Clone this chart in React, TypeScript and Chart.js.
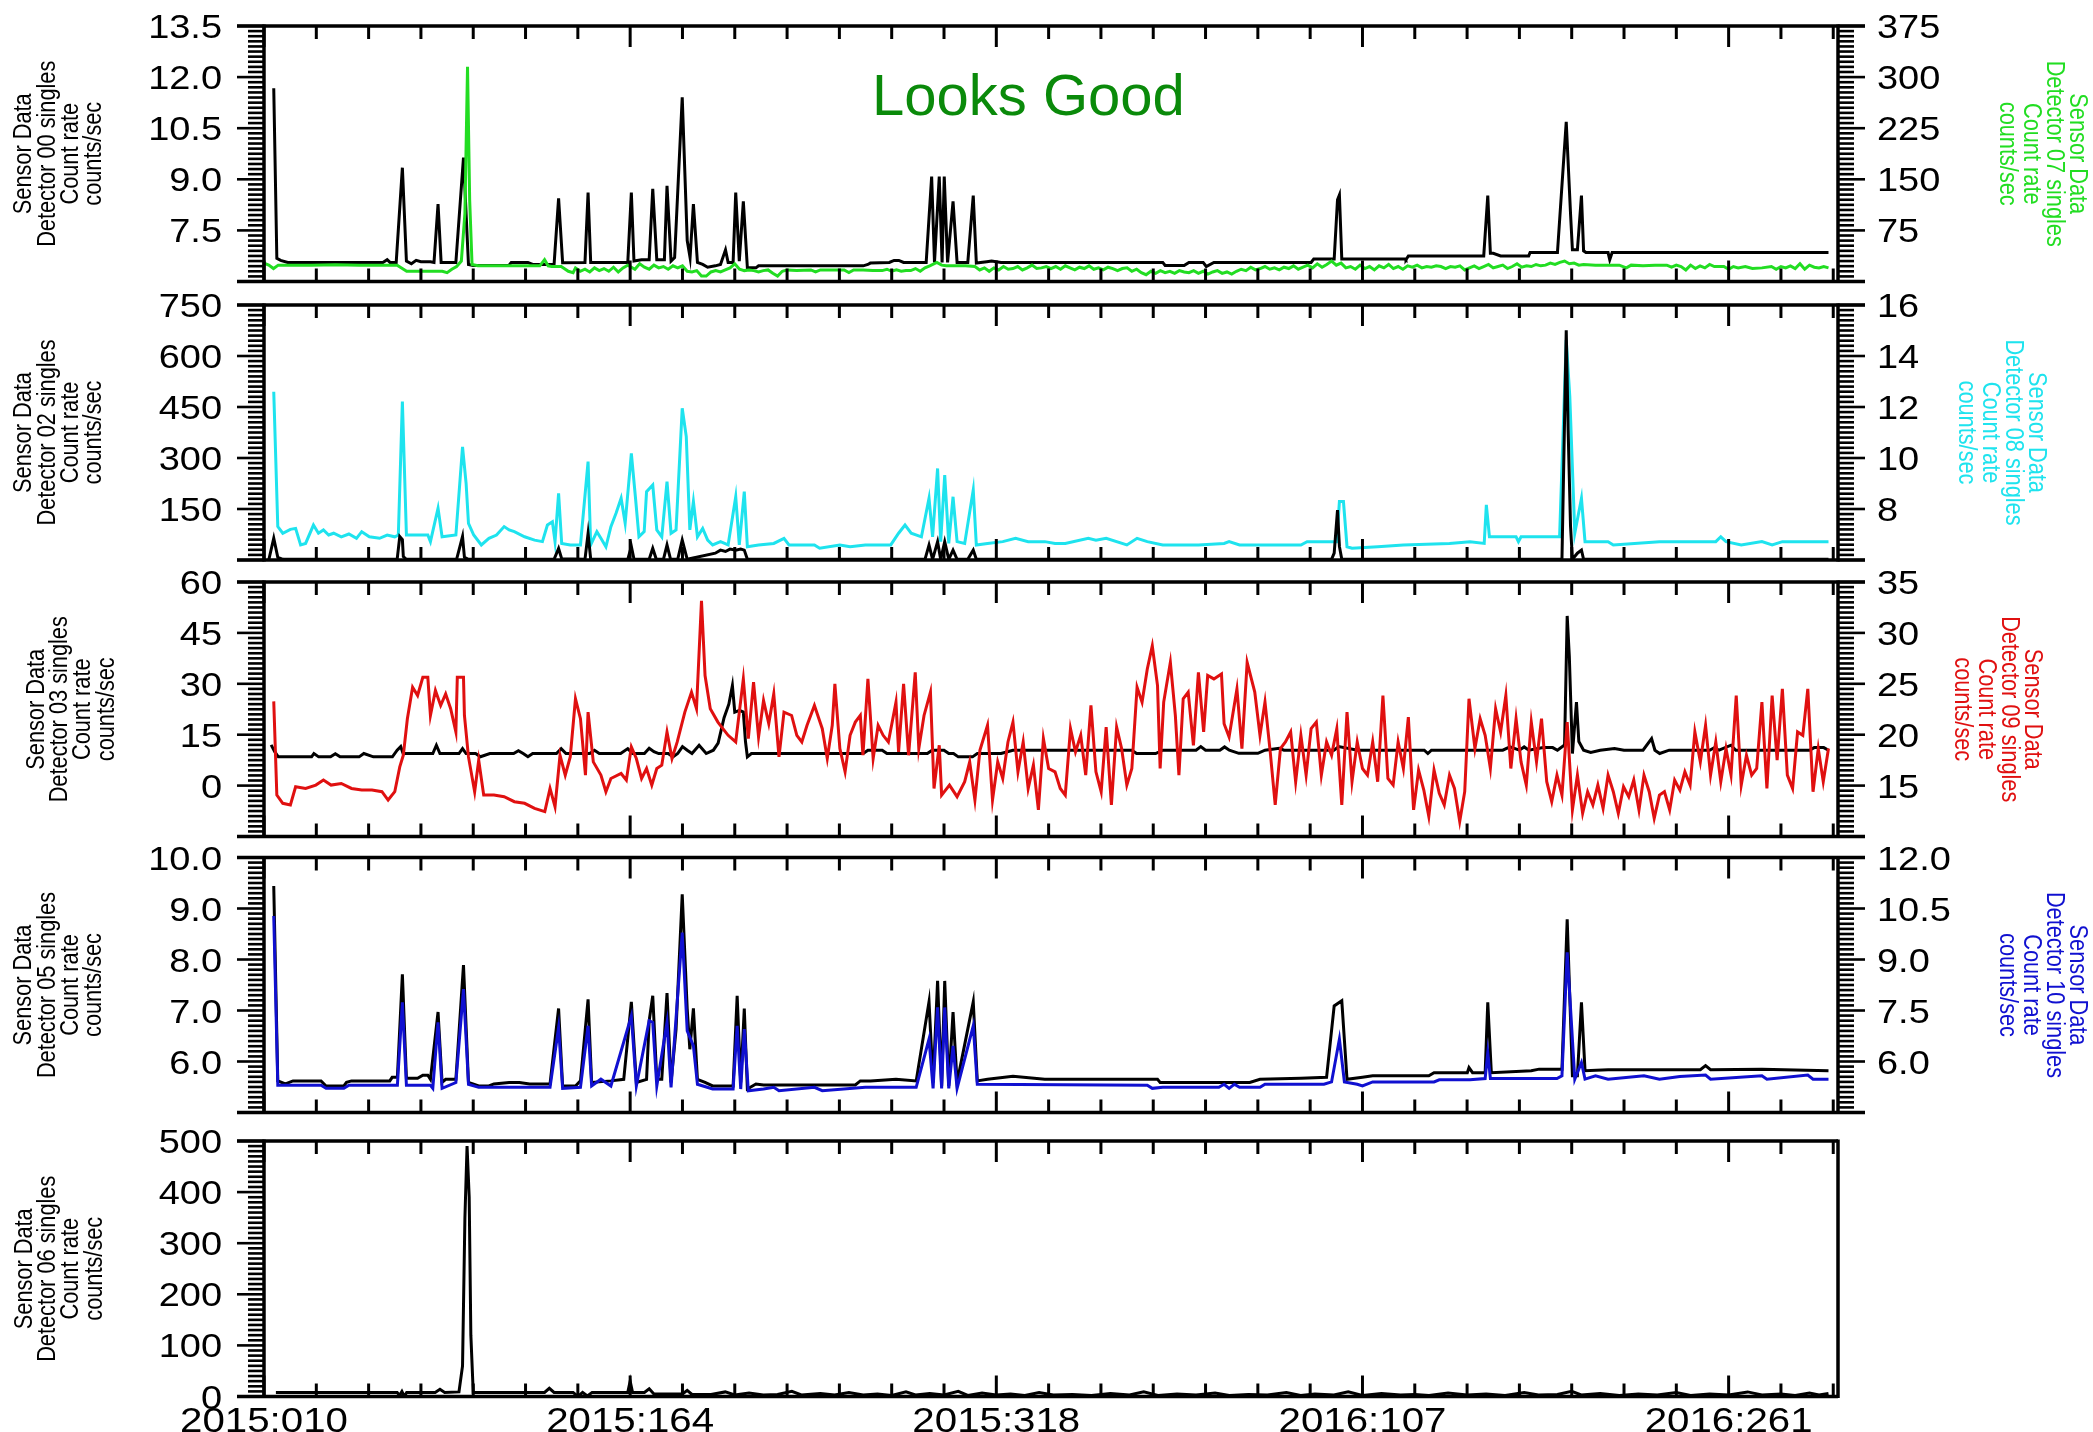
import React, { useEffect, useRef } from 'react';
import { Chart, registerables } from 'chart.js';

Chart.register(...registerables);

type Pt = [number, number];

// ---------- axis ranges / tick labels ----------
const xDayRange: Pt = [10, 672];
const xTickDays = [10, 164, 318, 472, 626];
const xTickLabels = ['2015:010', '2015:164', '2015:318', '2016:107', '2016:261'];
const xMinorStepDays = 22;

const p1LeftTicks = [13.5, 12.0, 10.5, 9.0, 7.5];
const p1RightTicks = [375, 300, 225, 150, 75];
const p2LeftTicks = [750, 600, 450, 300, 150];
const p2RightTicks = [16, 14, 12, 10, 8];
const p3LeftTicks = [60, 45, 30, 15, 0];
const p3RightTicks = [35, 30, 25, 20, 15];
const p4LeftTicks = [10.0, 9.0, 8.0, 7.0, 6.0];
const p4RightTicks = [12.0, 10.5, 9.0, 7.5, 6.0];
const p5LeftTicks = [500, 400, 300, 200, 100, 0];

// ---------- series (day-of-2015, counts/sec) ----------
const det00: Pt[] = [
  [14.1, 11.67], [15.4, 6.68], [17, 6.62], [20, 6.56], [60, 6.56], [61.8, 6.64], [63, 6.56], [65.6, 6.56],
  [68.2, 9.34], [69.9, 6.6], [72, 6.52], [74, 6.62], [76, 6.58], [80, 6.58], [81.5, 6.56], [83.2, 8.27],
  [84.5, 6.56], [90.7, 6.56], [93.9, 9.64], [96, 6.5], [98, 6.47], [113, 6.47], [114, 6.56], [121, 6.56],
  [123, 6.5], [132, 6.5], [133.9, 8.44], [135.6, 6.55], [145, 6.56], [146.3, 8.61], [147.4, 6.56], [163, 6.56],
  [164.5, 8.61], [165.6, 6.6], [168.8, 6.64], [172, 6.64], [173.5, 8.72], [175.2, 6.64], [178.4, 6.64],
  [179.5, 8.81], [181.2, 6.6], [182.7, 6.7], [185.9, 11.41], [188, 7.2], [189.2, 6.7], [190.6, 8.27],
  [192.3, 6.56], [194.5, 6.5], [196.6, 6.42], [199.8, 6.46], [202, 6.5], [204.1, 6.93], [205.2, 6.56],
  [207.3, 6.56], [208.4, 8.61], [209.9, 6.6], [211.6, 8.35], [213.3, 6.4], [216.9, 6.4], [218, 6.46],
  [262, 6.46], [264, 6.5], [265, 6.54], [273, 6.56], [275, 6.62], [277, 6.62], [279, 6.56], [288.5, 6.56],
  [290.8, 9.08], [292, 6.56], [294, 9.08], [295.2, 6.56], [296.1, 9.08], [297.5, 6.56], [299.8, 8.35],
  [301.5, 6.56], [306, 6.56], [308.3, 8.52], [309.6, 6.54], [314, 6.58], [316, 6.6], [320, 6.56],
  [388, 6.56], [389, 6.47], [397, 6.47], [399, 6.56], [405, 6.56], [406.3, 6.44], [409.5, 6.56],
  [450.4, 6.56], [451.5, 6.66], [460.1, 6.66], [461.5, 8.4], [462.3, 8.54], [463.3, 6.66], [490, 6.66],
  [490.3, 6.64], [491.3, 6.75], [523, 6.75], [524.7, 8.52], [525.8, 6.83], [527, 6.83], [530.1, 6.75],
  [541.9, 6.75], [542.5, 6.85], [554, 6.85], [557.7, 10.69], [559.5, 8.0], [560.3, 6.93], [562.4, 6.93],
  [564.1, 8.52], [565, 6.9], [566, 6.85], [575.3, 6.85], [576, 6.64], [577, 6.85], [668, 6.85],
];

const det07: Pt[] = [
  [10, 27], [12, 24], [14, 19], [16, 24], [20, 24], [30, 24], [40, 24.5], [50, 24], [60, 24], [66, 24],
  [70, 15], [75, 15], [80, 15], [85, 15], [87, 13], [89, 18], [91, 22], [93, 30], [94.5, 100], [95.6, 315],
  [96.5, 120], [97.5, 25], [100, 23], [110, 23], [120, 23], [126, 23], [128, 32], [129.5, 23], [131, 22],
  [135, 22], [138, 15], [140, 13], [141, 20], [143, 15], [145, 18], [147, 14], [149, 20], [151, 16],
  [153, 19], [155, 15], [157, 21], [159, 14], [161, 20], [163, 24], [164, 22], [166, 18], [168, 26],
  [170, 21], [172, 18], [174, 24], [176, 20], [178, 22], [180, 18], [182, 23], [184, 20], [186, 23],
  [188, 15], [190, 14], [192, 16], [194, 8], [196, 8], [198, 14], [200, 16], [202, 14], [204, 17],
  [206, 20], [208, 26], [210, 18], [212, 16], [214, 17], [216, 16], [218, 14], [220, 16], [222, 17],
  [224, 12], [226, 8], [228, 15], [230, 17], [234, 16], [240, 17], [242, 14], [244, 17], [250, 17],
  [254, 17], [256, 13], [258, 17], [262, 17], [266, 16], [270, 16], [272, 18], [274, 15], [276, 17],
  [278, 15], [280, 16], [282, 16], [284, 19], [286, 15], [288, 20], [290, 23], [293, 28], [295, 24],
  [297, 23], [300, 23], [305, 23], [309, 22], [311, 17], [313, 20], [315, 15], [317, 20], [319, 17],
  [321, 22], [323, 18], [325, 19], [327, 22], [329, 17], [331, 20], [333, 24], [335, 19], [337, 20],
  [339, 22], [341, 19], [343, 22], [345, 18], [347, 23], [349, 20], [351, 17], [353, 21], [355, 19],
  [357, 23], [359, 18], [361, 20], [363, 17], [365, 21], [367, 19], [369, 16], [371, 19], [373, 20],
  [375, 15], [377, 18], [379, 13], [381, 10], [383, 15], [385, 12], [387, 16], [389, 13], [391, 15],
  [393, 12], [395, 16], [397, 14], [399, 13], [401, 16], [403, 12], [405, 15], [407, 11], [409, 14],
  [411, 16], [413, 12], [415, 14], [417, 11], [419, 15], [421, 18], [423, 16], [425, 21], [427, 17],
  [429, 19], [431, 22], [433, 18], [435, 20], [437, 17], [439, 21], [441, 19], [443, 23], [445, 18],
  [447, 21], [449, 24], [451, 20], [453, 26], [455, 21], [457, 25], [459, 30], [461, 24], [463, 27],
  [465, 20], [467, 22], [469, 18], [471, 24], [473, 19], [475, 22], [477, 17], [479, 23], [481, 20],
  [483, 25], [485, 19], [487, 22], [489, 18], [491, 23], [493, 21], [495, 24], [497, 20], [499, 22],
  [501, 21], [503, 23], [505, 22], [507, 19], [509, 22], [511, 21], [513, 23], [515, 17], [517, 20],
  [519, 23], [521, 19], [523, 22], [525, 25], [527, 20], [529, 22], [531, 24], [533, 19], [535, 22],
  [537, 26], [539, 21], [541, 23], [543, 22], [545, 25], [547, 23], [549, 24], [551, 27], [553, 25],
  [555, 28], [557, 30], [559, 26], [561, 27], [563, 24], [565, 25], [570, 24], [575, 24], [580, 24],
  [583, 20], [585, 24], [590, 23], [595, 24], [600, 24], [602, 21], [604, 24], [606, 22], [608, 17],
  [610, 24], [612, 19], [614, 23], [616, 20], [618, 25], [620, 22], [624, 22], [626, 18], [628, 22],
  [630, 20], [633, 22], [636, 19], [640, 20], [644, 22], [646, 18], [648, 22], [650, 20], [652, 23],
  [654, 19], [656, 26], [658, 18], [660, 24], [662, 21], [664, 20], [666, 22], [668, 20],
];

const det02: Pt[] = [
  [12, 0], [14.1, 64], [15.8, 8], [18, 2], [66, 2], [67.1, 69], [68.2, 60], [68.6, 10], [69.9, 2], [91, 2],
  [93.5, 69], [94.3, 8], [96, 2], [132, 2], [133.9, 34], [135.2, 4], [145, 2], [146.3, 78], [147.4, 3],
  [163, 2], [164.5, 40], [165.6, 3], [172, 2], [173.5, 34], [175, 2], [178, 2], [179.5, 44], [181, 2],
  [184, 2], [185.9, 59], [188, 2], [199.8, 20], [202, 29], [204.1, 25], [206, 32], [208.4, 29], [210.5, 32],
  [212, 29], [213.3, 2], [288, 2], [289.7, 44], [291.2, 2], [293.3, 54], [294.6, 2], [296.3, 54], [298, 2],
  [299.8, 29], [301.5, 2], [306, 2], [308.3, 29], [309.6, 2], [459, 2], [460.1, 20], [461.5, 147],
  [462.3, 40], [463.3, 2], [555.9, 2], [557.7, 676], [558.5, 382], [559.5, 100], [560.3, 2], [562.4, 20],
  [564.1, 29], [565, 2], [668, 2],
];

const det08: Pt[] = [
  [14.1, 12.6], [15.8, 7.31], [17.9, 7.05], [21.1, 7.2], [23.3, 7.24], [25.4, 6.59], [27.5, 6.65], [30.8, 7.37],
  [32.9, 7.05], [35, 7.18], [37.2, 6.98], [39.3, 7.05], [42.5, 6.91], [45.7, 7.02], [48.9, 6.85], [51.1, 7.11],
  [54.3, 6.91], [58.6, 6.85], [61.8, 6.98], [65, 6.91], [66.5, 6.98], [68.2, 12.21], [69.9, 6.98], [78.9, 6.98],
  [80, 6.72], [83.2, 8.03], [84.9, 6.91], [90.7, 6.98], [93.5, 10.44], [95, 9.01], [96, 7.44], [98.2, 6.98],
  [101.4, 6.59], [104.6, 6.85], [107.8, 6.98], [111, 7.31], [113.1, 7.18], [115.3, 7.11], [119.6, 6.91],
  [123.8, 6.78], [127.1, 6.72], [129.2, 7.37], [131.3, 7.5], [132.4, 6.72], [133.9, 8.61], [135.2, 6.65],
  [138.8, 6.59], [143.1, 6.59], [146.3, 9.86], [147.4, 6.59], [150, 7.11], [151.7, 6.85], [153.8, 6.52],
  [155.9, 7.31], [158.1, 7.84], [160.2, 8.42], [161.9, 7.44], [164.5, 10.18], [166.2, 8.48], [167.7, 6.91],
  [169.9, 7.11], [170.9, 8.68], [173.5, 8.94], [175.2, 7.18], [177.3, 6.91], [179.5, 9.07], [181.2, 7.05],
  [183.3, 7.18], [185.9, 11.95], [187.6, 10.84], [189.1, 7.18], [190.6, 8.29], [192.3, 6.91], [194.5, 7.24],
  [196.6, 6.78], [198.7, 6.59], [202, 6.72], [205.2, 6.59], [208.4, 8.48], [209.9, 6.59], [212, 8.68],
  [213.3, 6.52], [218, 6.59], [224.4, 6.65], [228.7, 6.85], [230.8, 6.59], [241.5, 6.59], [243.7, 6.46],
  [252.2, 6.59], [256.5, 6.52], [262.9, 6.59], [273.6, 6.59], [276.9, 7.05], [279.6, 7.37], [282.2, 7.05],
  [286.5, 6.91], [289.7, 8.42], [291.2, 6.91], [293.3, 9.59], [294.6, 6.72], [296.3, 9.33], [298, 6.65],
  [299.8, 8.48], [301.5, 6.72], [304.7, 6.65], [308.3, 8.75], [309.6, 6.59], [314.3, 6.65], [320.7, 6.72],
  [326.1, 6.85], [331.4, 6.72], [338.4, 6.72], [342.7, 6.65], [347, 6.65], [356.7, 6.85], [359.9, 6.78],
  [364.2, 6.85], [372.9, 6.59], [377.2, 6.85], [381.5, 6.72], [388, 6.59], [403, 6.59], [413.8, 6.65],
  [415.9, 6.72], [420.3, 6.59], [446.1, 6.59], [448.7, 6.72], [461.2, 6.72], [462.3, 8.29], [464, 8.29],
  [465.5, 6.52], [467.6, 6.46], [478.4, 6.52], [489.2, 6.59], [508.6, 6.65], [517.2, 6.72], [523.2, 6.65],
  [524.1, 8.16], [525.4, 6.91], [536.6, 6.91], [537.6, 6.72], [538.7, 6.91], [554.9, 6.91], [557.7, 14.63],
  [559.2, 12.41], [561.3, 7.05], [564.1, 8.42], [565.6, 6.72], [575.3, 6.72], [577.5, 6.59], [596.9, 6.72],
  [620.6, 6.72], [622.7, 6.91], [624.9, 6.72], [631.3, 6.59], [640, 6.72], [644.3, 6.59], [648.6, 6.72],
  [668, 6.72],
];

const det03: Pt[] = [
  [13, 12], [14.5, 10], [16, 8.47], [30, 8.47], [31, 9.45], [33, 8.47], [38, 8.47], [40, 9.4], [42, 8.47],
  [50, 8.47], [52, 9.45], [56, 8.47], [64, 8.47], [66, 10.43], [67.5, 11.5], [68.5, 9.45], [81, 9.45],
  [82.5, 11.89], [84, 9.45], [92, 9.45], [93.5, 10.91], [95, 9.45], [99, 9.45], [101, 8.5], [105, 9.45],
  [115, 9.45], [117, 10.3], [119, 9.45], [121, 8.5], [123, 9.45], [133, 9.45], [135, 10.9], [137, 9.45],
  [147, 9.45], [149, 10.4], [151, 9.45], [160, 9.45], [163, 10.9], [165, 9.45], [170, 9.45], [172, 11],
  [174, 10], [176, 9.45], [180, 9.45], [182, 8.47], [184, 9.45], [186, 11.5], [188, 10.43], [190, 9.45],
  [193, 11.9], [196, 9.45], [199, 10.43], [201, 12.5], [203.5, 20], [205.5, 24], [207, 29.5], [208, 21.67],
  [210, 22.2], [211.6, 21.67], [212.5, 13], [213.3, 8.47], [215, 9.45], [262, 9.45], [264, 10.43],
  [270, 10.43], [272, 9.45], [289, 9.45], [291, 10.43], [296, 10.43], [298, 9.45], [300, 9.45], [302, 8.47],
  [308, 8.47], [310, 9.45], [320, 9.45], [325, 10.43], [375, 10.43], [377, 9.45], [385, 9.45], [388, 10.43],
  [402, 10.43], [404, 11.5], [406, 10.43], [412, 10.43], [414, 11.4], [416, 10.43], [420, 9.5], [428, 9.5],
  [431, 10.43], [437, 11], [439, 10.43], [460, 10.43], [462, 11.5], [470, 10.43], [498, 10.43],
  [499.5, 9.45], [501, 10.43], [531, 10.43], [534, 11.4], [538, 10.43], [540, 11.4], [542, 10.43],
  [548, 11.2], [552, 11.2], [554, 10.43], [557, 12], [558.1, 50.0], [559, 38], [560.3, 9.45], [562, 24.6],
  [563, 13], [565, 10.43], [568, 9.8], [572, 10.43], [578, 10.9], [582, 10.43], [590, 10.43], [593.6, 13.85],
  [595, 10.43], [597, 9.45], [601, 10.43], [618, 10.43], [620, 11.2], [622, 10.43], [627, 11.9],
  [629, 10.43], [660, 10.43], [662, 11.2], [666, 11.2], [668, 10.43],
];

const det09: Pt[] = [
  [14.1, 23.27], [15.4, 14.07], [17.9, 13.26], [21.1, 13.1], [23.3, 14.89], [27.5, 14.72], [31.8, 15.05],
  [35.0, 15.54], [38.2, 15.05], [42.5, 15.21], [46.8, 14.72], [51.1, 14.56], [55.4, 14.56], [59.6, 14.4],
  [62.2, 13.58], [65, 14.4], [67.1, 16.84], [68.6, 17.98], [70.3, 21.57], [72.5, 24.67], [74.6, 23.85],
  [76.8, 25.64], [78.9, 25.64], [80, 21.89], [82.1, 24.34], [84.3, 22.87], [86.4, 24.01], [88.5, 22.55],
  [90.7, 20.27], [91.3, 25.64], [93.9, 25.64], [94.3, 21.89], [96, 17.82], [98.6, 14.4], [100.3, 17.49],
  [102.4, 14.07], [106.7, 14.07], [111, 13.91], [115.3, 13.42], [119.6, 13.26], [123.8, 12.77],
  [128.1, 12.44], [130.3, 14.72], [132.4, 12.93], [134.5, 17.98], [136.7, 16.03], [138.8, 17.82],
  [141, 23.53], [143.1, 21.57], [145.2, 16.03], [146.3, 22.22], [148.5, 17.33], [151.7, 16.03],
  [153.8, 14.4], [155.9, 15.7], [160.2, 16.19], [162.4, 15.54], [164.5, 18.8], [166.6, 17.66],
  [168.8, 15.7], [170.9, 16.68], [173.1, 15.05], [175.2, 16.68], [177.3, 17.01], [179.5, 20.27],
  [181.6, 17.66], [183.8, 19.29], [187, 22.22], [189.8, 24.18], [191.9, 22.55], [194, 33.14],
  [195.5, 25.81], [197.7, 22.55], [200.9, 21.24], [203, 20.59], [205.2, 19.94], [208.4, 19.29],
  [211.6, 25.48], [213.7, 19.61], [215.9, 25.16], [218, 19.77], [220.1, 23.36], [222.3, 21.08],
  [224.4, 24.01], [226.6, 17.82], [228.7, 22.22], [231.9, 21.89], [234.1, 19.94], [236.2, 19.29],
  [238.4, 20.92], [241.5, 22.87], [244.8, 20.59], [246.9, 17.66], [249, 20.92], [250.1, 24.99],
  [252.2, 18.64], [254.4, 16.35], [256.5, 19.94], [258.7, 21.24], [260.8, 21.89], [261.9, 17.98],
  [264, 25.48], [266.2, 17.66], [268.3, 20.92], [270.4, 19.94], [272.6, 19.29], [275.8, 23.2],
  [276.9, 18.31], [279, 24.99], [281.1, 17.98], [283.9, 26.13], [285.4, 18.64], [287.6, 21.89],
  [290.3, 24.18], [291.8, 14.72], [294, 18.96], [295, 14.07], [298.3, 15.05], [301.5, 13.91],
  [304.7, 15.38], [306.8, 17.33], [309, 13.58], [311.1, 18.47], [314.3, 20.92], [316.4, 13.58],
  [318.6, 17.33], [320.7, 15.7], [322.9, 19.29], [325, 21.24], [327.1, 16.35], [329.3, 19.29],
  [331.4, 14.72], [333.6, 17.01], [335.7, 12.61], [337.8, 19.61], [340, 16.68], [342.7, 16.35],
  [344.9, 14.72], [347, 14.07], [349.2, 20.59], [351.3, 18.31], [353.5, 19.94], [355.6, 16.03],
  [357.8, 22.87], [359.9, 16.35], [362.1, 14.4], [364.2, 20.75], [366.4, 13.1], [368.6, 20.75],
  [370.7, 18.64], [372.9, 15.05], [375, 16.68], [377.2, 24.67], [379.3, 23.2], [381.5, 26.46],
  [383.6, 28.74], [385.8, 24.83], [386.9, 16.68], [388.4, 23.2], [391.2, 27.11], [393.3, 21.89],
  [394.8, 16.03], [396.6, 23.53], [398.7, 24.18], [400.9, 18.96], [403, 26.13], [405.2, 20.27],
  [406.9, 25.81], [409.5, 25.48], [412.7, 25.97], [413.8, 21.08], [415.9, 19.77], [419.2, 24.5],
  [421.3, 18.64], [423.5, 27.11], [426.7, 24.18], [428.9, 19.94], [431, 23.2], [433.2, 18.31],
  [435.3, 13.1], [437.5, 18.64], [439.6, 19.29], [441.8, 20.27], [443.9, 15.38], [446.1, 19.94],
  [448.3, 16.03], [450.4, 20.59], [452.6, 21.24], [454.7, 16.03], [456.9, 19.29], [459, 17.98],
  [461.2, 20.59], [463.3, 13.1], [465.5, 22.22], [467.6, 15.38], [469.8, 19.29], [472, 16.68],
  [474.1, 16.03], [476.3, 19.29], [478.4, 15.38], [480.6, 23.85], [482.7, 15.7], [484.9, 15.05],
  [487, 19.29], [489.2, 16.68], [491.3, 21.73], [493.5, 12.61], [495.6, 16.52], [497.8, 14.56],
  [499.9, 11.97], [502.1, 16.52], [504.3, 14.24], [506.4, 13.1], [508.6, 16.03], [510.7, 14.72],
  [512.9, 11.47], [515, 14.4], [516.8, 23.53], [519.3, 18.64], [521.5, 21.57], [523.6, 19.94],
  [525.8, 16.68], [528, 22.55], [530.1, 20.27], [532.3, 23.85], [534.4, 16.68], [536.6, 21.57],
  [538.7, 17.33], [540.9, 15.05], [543, 21.24], [545.2, 17.33], [547.3, 21.57], [549.5, 15.38],
  [551.6, 13.42], [553.8, 16.03], [555.9, 14.07], [558.1, 21.24], [560.3, 12.61], [562.4, 16.03],
  [564.6, 12.28], [566.7, 14.4], [568.9, 13.1], [571, 15.05], [573.2, 12.77], [575.3, 16.03],
  [577.5, 14.4], [579.6, 12.28], [581.8, 14.89], [584, 13.91], [586.1, 15.54], [588.3, 12.61],
  [590.4, 16.03], [592.6, 14.4], [594.7, 11.79], [596.9, 14.07], [599, 14.4], [601.2, 12.61],
  [603.3, 15.54], [605.5, 14.56], [607.6, 16.35], [609.8, 15.05], [611.8, 20.27], [614.1, 17.33],
  [616.3, 20.92], [618.4, 16.03], [620.6, 19.29], [622.7, 15.38], [624.9, 18.64], [627, 16.03],
  [629.2, 23.85], [631.3, 15.05], [633.5, 17.98], [635.7, 16.03], [637.8, 16.68], [640, 23.2],
  [642.1, 14.72], [644.3, 23.85], [646.4, 17.49], [648.6, 24.5], [650.7, 16.03], [652.9, 14.72],
  [655, 20.27], [657.2, 19.94], [659.3, 24.5], [661.5, 14.4], [663.7, 18.64], [665.8, 15.38], [668, 18.64],
];

const det05: Pt[] = [
  [14.1, 9.44], [15.8, 5.62], [19, 5.56], [22.2, 5.62], [34, 5.62], [36.1, 5.52], [43.6, 5.52], [44.7, 5.59],
  [46.8, 5.62], [62.9, 5.62], [63.9, 5.69], [66.1, 5.69], [68.2, 7.71], [69.9, 5.67], [74.6, 5.67],
  [76.8, 5.73], [78.9, 5.73], [80, 5.65], [83.2, 6.97], [84.9, 5.59], [86.4, 5.65], [90.7, 5.65],
  [93.9, 7.89], [96, 5.59], [100.3, 5.52], [104.6, 5.52], [106.7, 5.56], [113.1, 5.59], [117.4, 5.59],
  [121.7, 5.56], [130.3, 5.56], [133.9, 7.04], [135.6, 5.52], [141, 5.52], [143.1, 5.62], [146.3, 7.22],
  [147.8, 5.59], [155.9, 5.62], [161.3, 5.65], [164.5, 7.17], [166.6, 5.59], [170.9, 5.65], [172, 6.8],
  [173.5, 7.29], [175.2, 5.65], [177.3, 5.65], [179.5, 7.34], [181.2, 5.59], [183.3, 6.63], [185.9, 9.28],
  [188, 7.03], [189.1, 6.24], [190.6, 7.04], [192.3, 5.65], [195.5, 5.59], [198.7, 5.52], [207.3, 5.52],
  [209, 7.29], [210.5, 5.59], [212, 7.04], [213.3, 5.46], [216.9, 5.56], [220.1, 5.54], [258.7, 5.54],
  [260.8, 5.62], [265.1, 5.62], [275.8, 5.65], [284.3, 5.62], [289.7, 7.17], [291.4, 5.59], [293.3, 7.58],
  [295, 5.52], [296.3, 7.58], [298, 5.52], [299.8, 6.97], [301.5, 5.59], [308.3, 7.17], [310, 5.62],
  [314.3, 5.65], [325, 5.71], [338.4, 5.65], [385.8, 5.65], [386.9, 5.59], [424.6, 5.59], [428.9, 5.65],
  [446.1, 5.67], [456.9, 5.69], [460.1, 7.09], [463.3, 7.19], [465.5, 5.65], [472, 5.69], [476.3, 5.72],
  [499.9, 5.72], [502.1, 5.78], [516.1, 5.78], [516.8, 5.88], [518.3, 5.78], [523.6, 5.78], [524.7, 7.16],
  [526.2, 5.78], [543, 5.82], [546.3, 5.85], [555.9, 5.85], [558.1, 8.79], [560.3, 5.72], [562.4, 5.72],
  [564.1, 7.16], [565.6, 5.82], [575.3, 5.84], [614.1, 5.84], [616.3, 5.92], [618.4, 5.84], [640, 5.85],
  [668, 5.82],
];

const det10: Pt[] = [
  [14.1, 10.28], [15.8, 5.3], [34, 5.3], [36.1, 5.21], [43.6, 5.21], [45.7, 5.3], [66.1, 5.3], [68.2, 7.74],
  [69.9, 5.3], [80, 5.3], [81, 5.21], [83.2, 7.15], [84.9, 5.21], [90.7, 5.38], [93.9, 8.13], [96, 5.33],
  [100.3, 5.24], [130.3, 5.24], [133.9, 7.0], [135.6, 5.21], [143.1, 5.24], [146.3, 7.05], [147.8, 5.28],
  [151.7, 5.48], [155.9, 5.28], [164.5, 7.34], [166.6, 5.28], [172, 7.2], [173.5, 7.15], [175.2, 5.28],
  [179.5, 7.15], [181.2, 5.24], [185.9, 9.79], [188, 6.9], [190.6, 6.46], [192.3, 5.33], [198.7, 5.19],
  [207.3, 5.19], [209, 7.05], [210.5, 5.19], [212, 6.95], [213.7, 5.14], [220.1, 5.19], [224.4, 5.24],
  [226.6, 5.14], [241.5, 5.24], [244.8, 5.14], [262.9, 5.24], [284.3, 5.24], [289.7, 6.66], [291.4, 5.21],
  [293.3, 7.59], [295, 5.21], [296.3, 7.59], [298, 5.21], [299.8, 6.46], [301.5, 5.21], [308.3, 7.05],
  [310, 5.33], [381.5, 5.3], [383.6, 5.21], [388, 5.24], [411.6, 5.24], [413.8, 5.33], [415.9, 5.21],
  [418.1, 5.33], [420.3, 5.24], [428.9, 5.24], [431, 5.33], [455.8, 5.33], [459, 5.4], [462.3, 6.66],
  [464.4, 5.4], [469.8, 5.33], [472, 5.28], [476.3, 5.4], [502.1, 5.4], [504.3, 5.46], [517.2, 5.46],
  [523.6, 5.5], [524.7, 6.26], [525.8, 5.5], [553.8, 5.5], [555.9, 5.58], [558.1, 9.21], [561.3, 5.48],
  [564.1, 5.97], [565.6, 5.48], [570, 5.58], [575.3, 5.48], [590.4, 5.58], [596.9, 5.48], [605.5, 5.56],
  [616.3, 5.6], [618.4, 5.48], [640, 5.58], [642.1, 5.48], [659.3, 5.6], [661.5, 5.48], [668, 5.48],
];

const det06: Pt[] = [
  [15, 8], [66, 8], [67, 2], [68, 10], [69, 0], [70, 8], [82, 8], [84, 14], [86, 8], [92, 9], [93.5, 60],
  [94.5, 350], [95.4, 490], [96.3, 390], [97, 120], [98, 8], [128, 8], [130, 16], [132, 8], [140, 8],
  [142, 0], [144, 8], [146, 1], [148, 8], [163, 8], [164, 30], [165, 8], [170, 8], [172, 15], [174, 5],
  [186, 5], [188, 12], [190, 4], [198, 4], [204, 9], [208, 3], [214, 7], [220, 3], [226, 4], [232, 10],
  [236, 3], [244, 6], [250, 3], [256, 8], [262, 3], [268, 5], [274, 2], [280, 9], [284, 3], [290, 6],
  [296, 3], [302, 10], [306, 2], [312, 7], [318, 3], [324, 5], [330, 2], [336, 8], [342, 3], [350, 4],
  [358, 2], [366, 6], [374, 3], [380, 9], [386, 2], [394, 5], [402, 3], [410, 7], [416, 2], [424, 4],
  [432, 3], [440, 8], [446, 2], [452, 5], [460, 3], [466, 9], [472, 2], [480, 6], [488, 3], [494, 4],
  [500, 2], [508, 7], [516, 3], [524, 5], [532, 2], [540, 8], [546, 3], [554, 4], [560, 10], [564, 3],
  [572, 6], [580, 2], [588, 5], [596, 3], [604, 8], [610, 2], [618, 5], [626, 3], [634, 9], [640, 3],
  [648, 5], [654, 2], [660, 7], [664, 3], [668, 6],
];

// ---------- layout / style ----------
const W = 2093;
const H = 1432;
const PLOT_LEFT = 264;
const PLOT_RIGHT = 1838;
const FONT = "'Liberation Sans', Arial, Helvetica, sans-serif";

const GREEN = '#22dd22';
const CYAN = '#1ee3ee';
const RED = '#e01010';
const BLUE = '#1010d0';

interface SeriesCfg { data: Pt[]; color: string; axis: 'yL' | 'yR'; }
interface AxisCfg {
  min: number; max: number; major: number; ticks: number[]; decimals: number;
  title: string[]; titleColor: string; titleX: number;
}
interface PanelCfg {
  top: number; bottom: number;
  left: AxisCfg; right?: AxisCfg;
  series: SeriesCfg[];
  xLabels?: boolean;
  note?: boolean;
}

const titleLines = (n: string) => ['Sensor Data', `Detector ${n} singles`, 'Count rate', 'counts/sec'];

const panels: PanelCfg[] = [
  {
    top: 26, bottom: 281.5, note: true,
    left: { min: 6, max: 13.5, major: 1.5, ticks: p1LeftTicks, decimals: 1, title: titleLines('00'), titleColor: '#000', titleX: 24.5 },
    right: { min: 0, max: 375, major: 75, ticks: p1RightTicks, decimals: 0, title: titleLines('07'), titleColor: GREEN, titleX: 2077 },
    series: [{ data: det07, color: GREEN, axis: 'yR' }, { data: det00, color: '#000', axis: 'yL' }],
  },
  {
    top: 305, bottom: 560,
    left: { min: 0, max: 750, major: 150, ticks: p2LeftTicks, decimals: 0, title: titleLines('02'), titleColor: '#000', titleX: 24.5 },
    right: { min: 6, max: 16, major: 2, ticks: p2RightTicks, decimals: 0, title: titleLines('08'), titleColor: CYAN, titleX: 2036 },
    series: [{ data: det02, color: '#000', axis: 'yL' }, { data: det08, color: CYAN, axis: 'yR' }],
  },
  {
    top: 582, bottom: 836.5,
    left: { min: -15, max: 60, major: 15, ticks: p3LeftTicks, decimals: 0, title: titleLines('03'), titleColor: '#000', titleX: 37 },
    right: { min: 10, max: 35, major: 5, ticks: p3RightTicks, decimals: 0, title: titleLines('09'), titleColor: RED, titleX: 2032 },
    series: [{ data: det09, color: RED, axis: 'yR' }, { data: det03, color: '#000', axis: 'yL' }],
  },
  {
    top: 857.5, bottom: 1112.5,
    left: { min: 5, max: 10, major: 1, ticks: p4LeftTicks, decimals: 1, title: titleLines('05'), titleColor: '#000', titleX: 24.5 },
    right: { min: 4.5, max: 12, major: 1.5, ticks: p4RightTicks, decimals: 1, title: titleLines('10'), titleColor: BLUE, titleX: 2077 },
    series: [{ data: det10, color: BLUE, axis: 'yR' }, { data: det05, color: '#000', axis: 'yL' }],
  },
  {
    top: 1141, bottom: 1396.5, xLabels: true,
    left: { min: 0, max: 500, major: 100, ticks: p5LeftTicks, decimals: 0, title: titleLines('06'), titleColor: '#000', titleX: 25 },
    series: [{ data: det06, color: '#000', axis: 'yL' }],
  },
];

function drawScaledText(ctx: CanvasRenderingContext2D, text: string, x: number, y: number, sx: number, rot = 0) {
  ctx.save();
  ctx.translate(x, y);
  if (rot) ctx.rotate(rot);
  ctx.scale(sx, 1);
  ctx.fillText(text, 0, 0);
  ctx.restore();
}

function makePlugin(p: PanelCfg) {
  return {
    id: 'idlFrame',
    afterDraw(chart: any) {
      const ctx: CanvasRenderingContext2D = chart.ctx;
      const { left, right, top, bottom } = chart.chartArea;
      const xs = chart.scales.x;
      const yL = chart.scales.yL;
      const yR = chart.scales.yR;
      const seg = (x1: number, y1: number, x2: number, y2: number) => {
        ctx.beginPath(); ctx.moveTo(x1, y1); ctx.lineTo(x2, y2); ctx.stroke();
      };
      const MAJ = 27, MIN = 16, XMAJ = 21, XMIN = 13;
      ctx.save();
      ctx.strokeStyle = '#000';
      ctx.fillStyle = '#000';
      ctx.lineCap = 'butt';

      // y ticks (outward)
      const yTicks = (ax: AxisCfg, sc: any, side: 'L' | 'R') => {
        const minor = ax.major / 10;
        const n = Math.round((ax.max - ax.min) / minor);
        for (let i = 0; i <= n; i++) {
          const v = ax.min + i * minor;
          const yy = sc.getPixelForValue(v);
          const isMaj = i % 10 === 0;
          const len = isMaj ? MAJ : MIN;
          ctx.lineWidth = 2.6;
          if (side === 'L') seg(left - len, yy, left, yy); else seg(right, yy, right + len, yy);
        }
      };
      yTicks(p.left, yL, 'L');
      if (p.right) yTicks(p.right, yR, 'R');

      // x ticks (inward, top & bottom)
      const [d0, d1] = xDayRange;
      for (let d = d0; d <= d1; d += xMinorStepDays) {
        const xx = xs.getPixelForValue(d);
        const isMaj = xTickDays.includes(d);
        const len = isMaj ? XMAJ : XMIN;
        ctx.lineWidth = 3;
        seg(xx, top, xx, top + len);
        seg(xx, bottom, xx, bottom - len);
      }

      // frame
      ctx.lineWidth = 3.5;
      const rExt = p.right ? MAJ : 0;
      seg(left - MAJ, top, right + rExt, top);
      seg(left - MAJ, bottom, right + rExt, bottom);
      seg(left, top - 1.5, left, bottom + 1.5);
      seg(right, top - 1.5, right, bottom + 1.5);

      // tick labels
      ctx.font = `33px ${FONT}`;
      ctx.textBaseline = 'alphabetic';
      ctx.fillStyle = '#000';
      ctx.textAlign = 'right';
      p.left.ticks.forEach((v) => {
        drawScaledText(ctx, v.toFixed(p.left.decimals), 222, yL.getPixelForValue(v) + 12, 1.15);
      });
      if (p.right) {
        const r = p.right;
        ctx.textAlign = 'left';
        r.ticks.forEach((v) => {
          drawScaledText(ctx, v.toFixed(r.decimals), 1877, yR.getPixelForValue(v) + 12, 1.15);
        });
      }
      if (p.xLabels) {
        ctx.font = `35px ${FONT}`;
        ctx.textAlign = 'center';
        xTickDays.forEach((d, i) => {
          drawScaledText(ctx, xTickLabels[i], xs.getPixelForValue(d), 1432, 1.15);
        });
      }

      // axis titles
      const yc = (top + bottom) / 2;
      ctx.font = `25px ${FONT}`;
      ctx.textAlign = 'center';
      ctx.textBaseline = 'middle';
      ctx.fillStyle = p.left.titleColor;
      p.left.title.forEach((t, i) => {
        drawScaledText(ctx, t, p.left.titleX + i * 23.3, yc, 0.87, -Math.PI / 2);
      });
      if (p.right) {
        const r = p.right;
        ctx.fillStyle = r.titleColor;
        r.title.forEach((t, i) => {
          drawScaledText(ctx, t, r.titleX - i * 23.3, yc, 0.87, Math.PI / 2);
        });
      }

      if (p.note) {
        ctx.font = `58px ${FONT}`;
        ctx.fillStyle = '#0a8a0a';
        ctx.textAlign = 'left';
        ctx.textBaseline = 'alphabetic';
        ctx.fillText('Looks Good', 872, 115);
      }
      ctx.restore();
    },
  };
}

function Panel({ cfg }: { cfg: PanelCfg }) {
  const ref = useRef<HTMLCanvasElement | null>(null);
  useEffect(() => {
    if (!ref.current) return;
    const scales: any = {
      x: { type: 'linear', min: xDayRange[0], max: xDayRange[1], display: false },
      yL: { type: 'linear', position: 'left', min: cfg.left.min, max: cfg.left.max, display: false },
    };
    if (cfg.right) {
      scales.yR = { type: 'linear', position: 'right', min: cfg.right.min, max: cfg.right.max, display: false };
    }
    const chart = new Chart(ref.current, {
      type: 'line',
      data: {
        datasets: cfg.series.map((s) => ({
          data: s.data.map(([x, y]) => ({ x, y })),
          borderColor: s.color,
          backgroundColor: s.color,
          borderWidth: 3,
          pointRadius: 0,
          tension: 0,
          fill: false,
          yAxisID: s.axis,
          xAxisID: 'x',
        })),
      },
      options: {
        animation: false,
        responsive: false,
        devicePixelRatio: 1,
        events: [],
        layout: { padding: { left: PLOT_LEFT, right: W - PLOT_RIGHT, top: cfg.top, bottom: H - cfg.bottom } },
        scales,
        plugins: { legend: { display: false }, tooltip: { enabled: false }, title: { display: false } },
      } as any,
      plugins: [makePlugin(cfg)],
    });
    return () => chart.destroy();
  }, [cfg]);
  return (
    <canvas
      ref={ref}
      width={W}
      height={H}
      style={{ position: 'absolute', left: 0, top: 0, width: W, height: H }}
    />
  );
}

export default function App() {
  return (
    <div style={{ position: 'fixed', left: 0, top: 0, width: W, height: H, background: '#fff', overflow: 'hidden' }}>
      {panels.map((p, i) => (
        <Panel key={i} cfg={p} />
      ))}
    </div>
  );
}
